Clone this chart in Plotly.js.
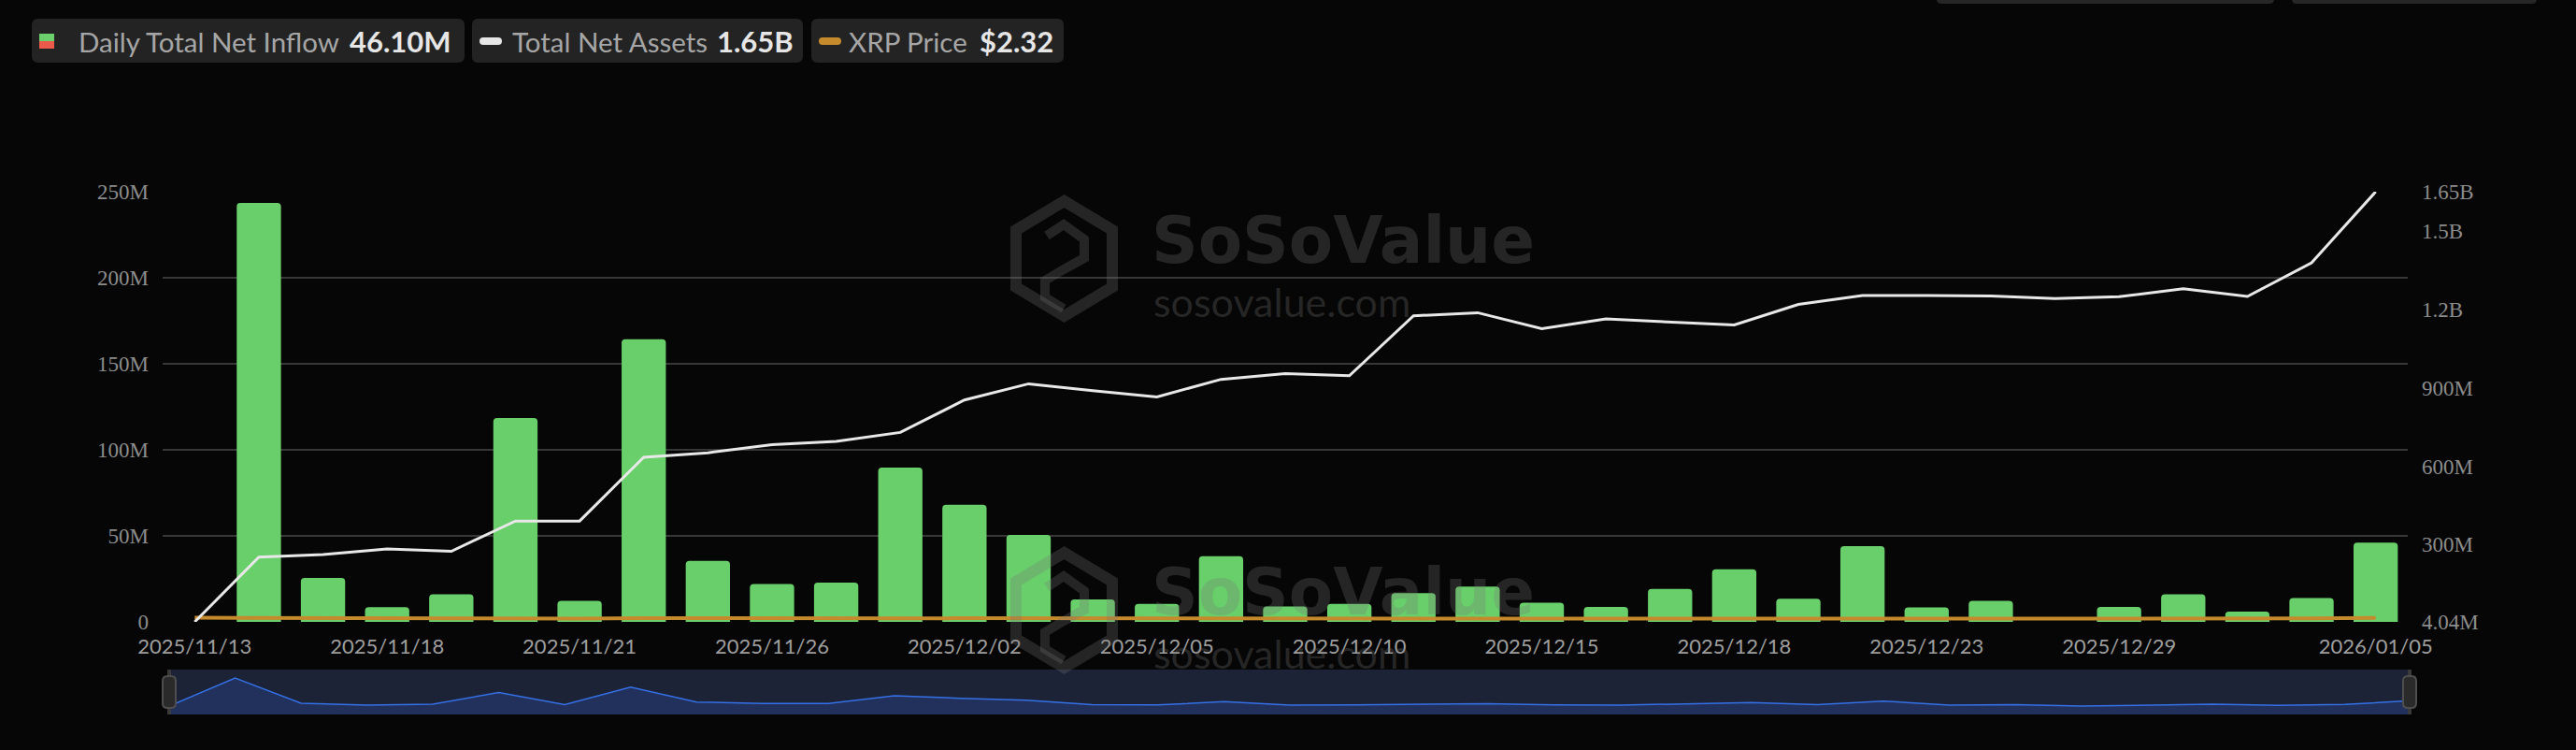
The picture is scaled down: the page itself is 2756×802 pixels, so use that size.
<!DOCTYPE html>
<html>
<head>
<meta charset="utf-8">
<script src="https://cdn.plot.ly/plotly-3.0.1.min.js"></script>
<style>
html,body{margin:0;padding:0;background:#060606;}
#chart{width:2756px;height:802px;}
</style>
</head>
<body>
<div id="chart"></div>
<script>
// ---------------- data ----------------
const dates = ["2025/11/13","2025/11/14","2025/11/17","2025/11/18","2025/11/19","2025/11/20","2025/11/21",
  "2025/11/24","2025/11/25","2025/11/26","2025/11/28","2025/12/01","2025/12/02","2025/12/03","2025/12/04",
  "2025/12/05","2025/12/08","2025/12/09","2025/12/10","2025/12/11","2025/12/12","2025/12/15","2025/12/16",
  "2025/12/17","2025/12/18","2025/12/19","2025/12/22","2025/12/23","2025/12/24","2025/12/26","2025/12/29",
  "2025/12/30","2025/12/31","2026/01/02","2026/01/05"];
// Daily Total Net Inflow (millions USD)
const inflowM = [0, 243.5, 25.5, 8.5, 16, 118.5, 12.2, 164.3, 35.5, 22, 22.8, 89.7, 68.1, 50.5, 13, 10.5,
  38.2, 9, 10.5, 16.7, 20.5, 11.2, 8.7, 19.2, 30.6, 13.4, 44, 8.4, 12.2, 0, 8.7, 16, 6, 13.8, 46.1];
// Total Net Assets (millions USD)
const assetsM = [4.04, 252, 262, 283, 274, 390, 390, 634, 651, 682, 695, 729, 853, 915, 889, 865, 932, 954,
  946, 1175, 1187, 1126, 1163, 1151, 1140, 1219, 1253, 1253, 1251, 1241, 1248, 1279, 1249, 1378, 1650];
// XRP price (USD)
const xrpPrice = [2.40, 2.27, 2.16, 2.20, 2.09, 2.01, 1.95, 2.20, 2.22, 2.19, 2.21, 2.03, 2.16, 2.22, 2.13,
  2.03, 2.08, 2.07, 2.06, 2.02, 2.01, 1.91, 1.90, 1.86, 1.82, 1.91, 1.92, 1.87, 1.86, 1.85, 1.86, 1.87,
  1.84, 2.00, 2.32];
const xTickDates = ["2025/11/13","2025/11/18","2025/11/21","2025/11/26","2025/12/02","2025/12/05","2025/12/10",
  "2025/12/15","2025/12/18","2025/12/23","2025/12/29","2026/01/05"];
const leftTicks = [0, 50, 100, 150, 200, 250];
const leftTickText = ["0", "50M", "100M", "150M", "200M", "250M"];
const rightTicks = [4.04, 300, 600, 900, 1200, 1500, 1650];
const rightTickText = ["4.04M", "300M", "600M", "900M", "1.2B", "1.5B", "1.65B"];
const legendItems = [
  {label: "Daily Total Net Inflow", value: "46.10M"},
  {label: "Total Net Assets", value: "1.65B"},
  {label: "XRP Price", value: "$2.32"}
];

// ---------------- layout helpers ----------------
const M = {l: 174, r: 176, t: 205, b: 38};
const PW = 2756 - M.l - M.r, PH = 802 - M.t - M.b;
const X = px => (px - M.l) / PW;
const Y = py => (802 - M.b - py) / PH;
function rr(x0, y0, x1, y1, r) {
  const a = X(x0), b = X(x1), c = Y(y0), d = Y(y1);
  const rx = r / PW, ry = r / PH;
  return `M${a+rx},${c} L${b-rx},${c} Q${b},${c} ${b},${c-ry} L${b},${d+ry} Q${b},${d} ${b-rx},${d} ` +
         `L${a+rx},${d} Q${a},${d} ${a},${d+ry} L${a},${c-ry} Q${a},${c} ${a+rx},${c} Z`;
}
function poly(pts) {
  return pts.map((p, i) => (i ? "L" : "M") + X(p[0]) + "," + Y(p[1])).join(" ") + " Z";
}
function pline(pts) {
  return pts.map((p, i) => (i ? "L" : "M") + X(p[0]) + "," + Y(p[1])).join(" ");
}
const miniRange = [-72.7, 317];

const GREEN = "#68cf6a", WHITE = "#e8e8e8", ORANGE = "#c48a2c";
const WM = "rgba(120,120,120,0.28)";

const shapes = [];
const annotations = [];

// legend boxes
const boxes = [[34, 497], [505, 859], [868, 1138]];
boxes.forEach(b => shapes.push({type: "path", xref: "paper", yref: "paper", path: rr(b[0], 20, b[1], 67, 7),
  fillcolor: "#232323", line: {width: 0}, layer: "below"}));
shapes.push({type: "rect", xref: "paper", yref: "paper", x0: X(42), x1: X(58), y0: Y(36), y1: Y(44),
  fillcolor: "#6bd06b", line: {width: 0}});
shapes.push({type: "rect", xref: "paper", yref: "paper", x0: X(42), x1: X(58), y0: Y(44), y1: Y(52),
  fillcolor: "#ec5a4b", line: {width: 0}});
shapes.push({type: "path", xref: "paper", yref: "paper", path: rr(513, 40, 537, 48, 4),
  fillcolor: "#e6e6e6", line: {width: 0}});
shapes.push({type: "path", xref: "paper", yref: "paper", path: rr(876, 40, 900, 48, 4),
  fillcolor: ORANGE, line: {width: 0}});
// partial tabs at top right
shapes.push({type: "path", xref: "paper", yref: "paper", path: rr(2072, -10, 2433, 4, 5),
  fillcolor: "#262626", line: {width: 0}});
shapes.push({type: "path", xref: "paper", yref: "paper", path: rr(2452, -10, 2714, 4, 5),
  fillcolor: "#262626", line: {width: 0}});

// legend text
const labelX = [83, 547, 907];
const valueX = [373, 766, 1047];
legendItems.forEach((it, i) => {
  annotations.push({xref: "paper", yref: "paper", x: X(labelX[i]), y: Y(44), xanchor: "left", yanchor: "middle",
    text: it.label, showarrow: false, font: {family: "Lato", size: 29.5, color: "#a6a6a6"}, borderpad: 0});
  annotations.push({xref: "paper", yref: "paper", x: X(valueX[i]), y: Y(44), xanchor: "left", yanchor: "middle",
    text: "<b>" + it.value + "</b>", showarrow: false, font: {family: "Lato", size: 31, color: "#e6e6e6"}, borderpad: 0});
});

// range slider look
shapes.push({type: "rect", xref: "paper", yref: "paper", x0: X(181), x1: X(2579), y0: Y(716), y1: Y(764),
  fillcolor: "#1d2337", line: {width: 0}, layer: "below"});
shapes.push({type: "rect", xref: "paper", yref: "y3", x0: X(181), x1: X(2579), y0: miniRange[0], y1: 0,
  fillcolor: "#22315b", line: {width: 0}, layer: "below"});
shapes.push({type: "rect", xref: "paper", yref: "paper", x0: X(179), x1: X(183), y0: Y(716), y1: Y(764),
  fillcolor: "#3a3a3a", line: {width: 0}});
shapes.push({type: "rect", xref: "paper", yref: "paper", x0: X(2576), x1: X(2580), y0: Y(716), y1: Y(764),
  fillcolor: "#3a3a3a", line: {width: 0}});
[[174, 188], [2571, 2585]].forEach(h => shapes.push({type: "path", xref: "paper", yref: "paper",
  path: rr(h[0], 723, h[1], 757, 5), fillcolor: "#2a2a2a", line: {color: "#4e4e4e", width: 2}}));

// watermarks
[0, 376].forEach(dy => {
  const cx = 1138.5;
  shapes.push({type: "path", xref: "paper", yref: "paper",
    path: poly([[cx, 215 + dy], [1190, 246 + dy], [1190, 307 + dy], [cx, 338 + dy], [1087, 307 + dy], [1087, 246 + dy]]),
    fillcolor: "rgba(0,0,0,0)", line: {color: WM, width: 12}});
  shapes.push({type: "path", xref: "paper", yref: "paper",
    path: pline([[1120, 252 + dy], [1138, 240 + dy], [1160, 256 + dy], [1160, 276 + dy], [1138, 288 + dy],
      [1118, 300 + dy], [1118, 318 + dy], [1138, 330 + dy]]),
    line: {color: WM, width: 10}});
  annotations.push({xref: "paper", yref: "paper", x: X(1230), y: Y(257 + dy), xanchor: "left", yanchor: "middle",
    text: "<b>SoSoValue</b>", showarrow: false, font: {family: "DejaVu Sans", size: 69, color: WM}});
  annotations.push({xref: "paper", yref: "paper", x: X(1232), y: Y(322 + dy), xanchor: "left", yanchor: "middle",
    text: "sosovalue.com", showarrow: false, font: {family: "Lato", size: 43, color: WM}});
});

// ---------------- traces ----------------
const traces = [
  {type: "bar", name: "Daily Total Net Inflow", x: dates, y: inflowM, xaxis: "x", yaxis: "y",
   marker: {color: GREEN, line: {width: 0}}, hoverinfo: "skip"},
  {type: "scatter", mode: "lines", name: "Total Net Assets", x: dates, y: assetsM, xaxis: "x", yaxis: "y2",
   line: {color: WHITE, width: 3}, cliponaxis: false, hoverinfo: "skip"},
  {type: "scatter", mode: "lines", name: "XRP Price", x: dates, y: xrpPrice, xaxis: "x", yaxis: "y",
   line: {color: ORANGE, width: 4}, cliponaxis: false, hoverinfo: "skip"},
  {type: "scatter", mode: "lines", name: "slider", x: dates, y: inflowM, xaxis: "x2", yaxis: "y3",
   fill: "tozeroy", fillcolor: "#22315b", line: {color: "#3570e6", width: 1.5}, hoverinfo: "skip"}
];

const layout = {
  width: 2756, height: 802,
  margin: M,
  paper_bgcolor: "#060606", plot_bgcolor: "#060606",
  showlegend: false,
  bargap: 0.31,
  barcornerradius: 4,
  xaxis: {type: "category", domain: [0, X(2576)], range: [-0.5, 34.5], anchor: "y",
    tickmode: "array", tickvals: xTickDates, ticktext: xTickDates, ticks: "", ticklabelstandoff: 11,
    showgrid: false, zeroline: false, showline: false,
    tickfont: {family: "Lato", size: 22, color: "#9e9e9e"}},
  yaxis: {domain: [Y(665), 1], range: [0, 250], tickmode: "array", tickvals: leftTicks, ticktext: leftTickText,
    ticks: "", ticklabelstandoff: 14, showgrid: true, gridcolor: "#373737", gridwidth: 1.5,
    zeroline: false, showline: false,
    tickfont: {family: "Liberation Serif", size: 23, color: "#8c8c8c"}},
  yaxis2: {overlaying: "y", side: "right", anchor: "x", range: [4.04, 1650], tickmode: "array",
    tickvals: rightTicks, ticktext: rightTickText, ticks: "", ticklabelstandoff: 14, showgrid: false,
    zeroline: false, showline: false,
    tickfont: {family: "Liberation Serif", size: 23, color: "#8c8c8c"}},
  xaxis2: {type: "category", domain: [X(181), X(2579)], range: [0, 34], anchor: "y3", visible: false,
    fixedrange: true},
  yaxis3: {domain: [0, Y(716)], range: miniRange, anchor: "x2", visible: false, fixedrange: true},
  shapes: shapes,
  annotations: annotations
};

Plotly.newPlot("chart", traces, layout, {displayModeBar: false, staticPlot: true});
</script>
</body>
</html>
